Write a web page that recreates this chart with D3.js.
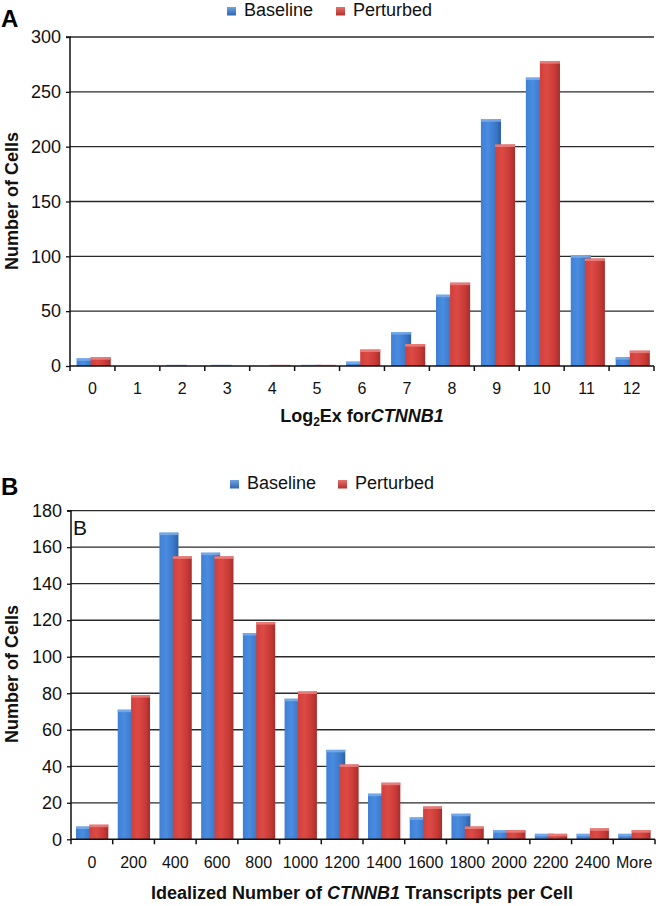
<!DOCTYPE html>
<html><head><meta charset="utf-8">
<script src="https://cdn.jsdelivr.net/npm/d3@7"></script>
<style>body{margin:0;background:#fff}svg{display:block;font-family:Arial,"Liberation Sans",Helvetica,sans-serif}</style>
</head><body>
<svg id="c" width="656" height="906"></svg>
<script>
const seriesNames = ["Baseline", "Perturbed"];
const catsA = ["0","1","2","3","4","5","6","7","8","9","10","11","12"];
const baseA = [7,0,1,1,0,1,4,31,65,225,263,101,8];
const pertA = [8,0,0,0,1,1,15,20,76,202,278,98,14];
const ticksA = [0,50,100,150,200,250,300];

const catsB = ["0","200","400","600","800","1000","1200","1400","1600","1800","2000","2200","2400","More"];
const baseB = [7,71,168,157,113,77,49,25,12,14,5,3,3,3];
const pertB = [8,79,155,155,119,81,41,31,18,7,5,3,6,5];
const ticksB = [0,20,40,60,80,100,120,140,160,180];

const svg = d3.select("#c");
const defs = svg.append("defs");
function grad(id, stops){
  const g = defs.append("linearGradient").attr("id", id).attr("x1","0").attr("x2","1").attr("y1","0").attr("y2","0");
  stops.forEach(s => g.append("stop").attr("offset", s[0]).attr("stop-color", s[1]));
}
grad("gBlue", [[0,"#3f80d6"],[0.35,"#4a8ce0"],[0.75,"#3a77c8"],[1,"#2b5fa6"]]);
grad("gRed", [[0,"#d2403c"],[0.35,"#dc4a45"],[0.75,"#c93a36"],[1,"#a52e2b"]]);
const fills = ["url(#gBlue)","url(#gRed)"];
const caps = ["#7fb0ea","#ec8a86"];
const legendCol = [["#6fa3e0","#2f66b0"],["#e8706c","#b0302c"]];

function chart(o){
  const g = svg.append("g");
  const x = d3.scaleBand().domain(o.cats).range([o.x0, o.x1]).padding(0);
  const y = d3.scaleLinear().domain([0, o.max]).range([o.yb, o.yt]);
  const bw = x.bandwidth();
  // gridlines
  g.append("g").selectAll("line").data(o.ticks.filter(t=>t>0)).join("line")
    .attr("x1", o.x0).attr("x2", o.x1).attr("y1", d=>y(d)).attr("y2", d=>y(d))
    .attr("stroke", "#2a2a2a").attr("stroke-width", 1.3);
  // bars
  [o.base, o.pert].forEach((vals, si) => {
    const off = si === 0 ? o.offB : o.offR;
    const bars = g.append("g");
    o.cats.forEach((c, i) => {
      const v = vals[i];
      if (v <= 0) return;
      const bx = x(c) + off*bw, w = o.wf*bw, top = y(v), h = y(0) - y(v);
      bars.append("rect").attr("x", bx).attr("y", top).attr("width", w).attr("height", h).attr("fill", fills[si]);
      bars.append("rect").attr("x", bx).attr("y", top).attr("width", w).attr("height", Math.min(2.5, h)).attr("fill", caps[si]).attr("opacity", 0.8);
    });
  });
  // y axis
  const ya = d3.axisLeft(y).tickValues(o.ticks).tickSize(4).tickPadding(5);
  const yg = g.append("g").attr("transform", `translate(${o.x0},0)`).call(ya);
  yg.select(".domain").attr("stroke", "#111").attr("stroke-width", 1.5).attr("d", `M-4,${y(o.max)}H0V${y(0)}`);
  yg.selectAll(".tick line").attr("stroke", "#111").attr("stroke-width", 1.3);
  yg.selectAll(".tick text").attr("font-size", 18).attr("fill", "#111").attr("font-family", "Arial,'Liberation Sans',sans-serif");
  // x axis
  const xg = g.append("g");
  xg.append("line").attr("x1", o.x0).attr("x2", o.x1).attr("y1", y(0)).attr("y2", y(0)).attr("stroke", "#111").attr("stroke-width", 1.6);
  const bounds = o.cats.map(c => x(c)).concat([o.x1]);
  xg.selectAll("line.tk").data(bounds).join("line").attr("class","tk")
    .attr("x1", d=>d).attr("x2", d=>d).attr("y1", y(0)).attr("y2", y(0)+5).attr("stroke", "#111").attr("stroke-width", 1.5);
  xg.selectAll("text").data(o.cats).join("text")
    .attr("x", d => x(d) + bw/2).attr("y", o.xLabY).attr("text-anchor", "middle")
    .attr("font-size", 16).attr("fill", "#111").text(d => d);
  // legend
  const lg = g.append("g");
  seriesNames.forEach((n, i) => {
    const lx = o.legX[i];
    const gid = `lg${o.id}${i}`;
    const lgrad = defs.append("linearGradient").attr("id", gid).attr("x1","0").attr("x2","0").attr("y1","0").attr("y2","1");
    lgrad.append("stop").attr("offset",0).attr("stop-color", legendCol[i][0]);
    lgrad.append("stop").attr("offset",1).attr("stop-color", legendCol[i][1]);
    lg.append("rect").attr("x", lx).attr("y", o.legY - 9).attr("width", 9).attr("height", 8.5).attr("fill", `url(#${gid})`);
    lg.append("text").attr("x", lx + 17).attr("y", o.legY).attr("font-size", 18).attr("fill", "#111").text(n);
  });
  // y title
  g.append("text").attr("transform", `translate(${o.yTitleX},${o.yTitleY}) rotate(-90)`)
    .attr("text-anchor", "middle").attr("font-size", 18).attr("font-weight", "bold").attr("fill", "#111").text("Number of Cells");
  // panel label
  g.append("text").attr("x", 1).attr("y", o.panelY).attr("font-size", 24).attr("font-weight", "bold").attr("fill", "#000").text(o.panel);
  return {g, x, y};
}

const A = chart({id:"A", cats:catsA, base:baseA, pert:pertA, ticks:ticksA, max:300,
  x0:70, x1:654, yb:366, yt:37, offB:0.147, offR:0.46, wf:0.447, xLabY:394,
  legX:[227,336], legY:16, yTitleX:18, yTitleY:201, panel:"A", panelY:27});
const tA = A.g.append("text").attr("x", 362).attr("y", 422).attr("text-anchor", "middle")
  .attr("font-size", 18).attr("font-weight", "bold").attr("fill", "#111");
tA.append("tspan").text("Log");
tA.append("tspan").attr("font-size", 12).attr("dy", 4).text("2");
tA.append("tspan").attr("dy", -4).text("Ex for");
tA.append("tspan").attr("font-style", "italic").text("CTNNB1");

const B = chart({id:"B", cats:catsB, base:baseB, pert:pertB, ticks:ticksB, max:180,
  x0:71, x1:655, yb:839.3, yt:510.7, offB:0.12, offR:0.44, wf:0.455, xLabY:868,
  legX:[230,338], legY:489, yTitleX:18, yTitleY:674, panel:"B", panelY:495});
B.g.append("text").attr("x", 73).attr("y", 535).attr("font-size", 21).attr("fill", "#111").text("B");
const tB = B.g.append("text").attr("x", 362).attr("y", 899).attr("text-anchor", "middle")
  .attr("font-size", 18).attr("font-weight", "bold").attr("fill", "#111");
tB.append("tspan").text("Idealized Number of ");
tB.append("tspan").attr("font-style", "italic").text("CTNNB1");
tB.append("tspan").text(" Transcripts per Cell");
</script>
</body></html>
